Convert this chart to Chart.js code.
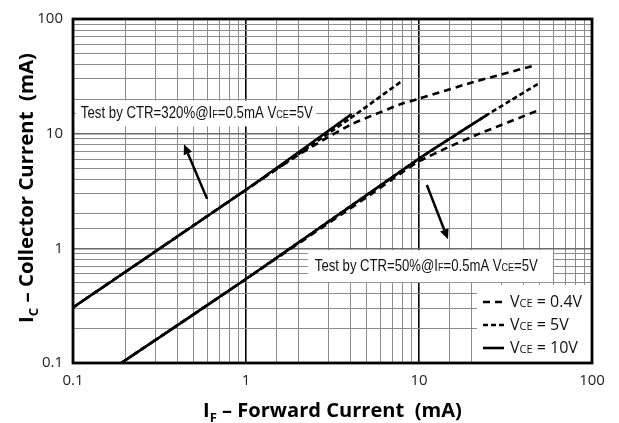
<!DOCTYPE html>
<html>
<head>
<meta charset="utf-8">
<script src="https://cdn.jsdelivr.net/npm/chart.js@4.4.1/dist/chart.umd.min.js"></script>
<style>
  html, body { margin: 0; padding: 0; background: #fff; }
</style>
</head>
<body>
<canvas id="chart" width="619" height="423"></canvas>
<script>
// decade labels on both axes
const decades = [0.1, 1, 10, 100];

// upper family, CTR=320%
const upX10 = [0.1, 1, 4.08];
const upY10 = [0.305, 3.24, 14.8];
const upX5 = [0.1, 1, 2, 4, 7.94];
const upY5 = [0.305, 3.24, 6.6, 13.6, 28.7];
const upX04 = [0.1, 1, 2, 2.68, 4.08, 7.76, 10, 20, 47];
const upY04 = [0.305, 3.24, 6.5, 8.5, 12.1, 18.0, 20.2, 27.8, 39.5];

// lower family, CTR=50%
const loX10 = [0.19, 1, 10, 24.6];
const loY10 = [0.1, 0.54, 6.05, 14.5];
const loX5 = [0.19, 1, 10, 24.6, 50];
const loY5 = [0.1, 0.54, 6.05, 14.5, 27.8];
const loX04 = [0.19, 1, 5, 8, 10, 15, 22, 48];
const loY04 = [0.1, 0.54, 2.8, 4.6, 5.75, 7.7, 9.9, 15.8];

const vceLabels = ['0.4V', '5V', '10V'];

// notes: [text, sub, text, sub, text]
const noteUp = ['Test by CTR=320%@I', 'F', '=0.5mA V', 'CE', '=5V'];
const noteLo = ['Test by CTR=50%@I', 'F', '=0.5mA V', 'CE', '=5V'];
const titleX = ['I', 'F', ' \u2013 Forward Current  (mA)'];
const titleY = ['I', 'C', ' \u2013 Collector Current  (mA)'];

function pts(xs, ys) {
  return xs.map((x, i) => ({ x: x, y: ys[i] }));
}
function joined(xa, ya, xb, yb) {
  return pts(xa, ya).concat([{ x: 1, y: null }], pts(xb, yb));
}

function isDecade(v) {
  const l = Math.log10(v);
  return Math.abs(l - Math.round(l)) < 1e-6;
}

function drawSubText(ctx, parts, x, y, size, subSize, font, weight, drop) {
  let cx = x;
  parts.forEach((p, i) => {
    const sub = i % 2 === 1;
    ctx.font = (weight || '') + ' ' + (sub ? subSize : size) + 'px ' + font;
    ctx.fillText(p, cx, sub ? y + drop : y);
    cx += ctx.measureText(p).width;
  });
  return cx - x;
}
function measureSubText(ctx, parts, size, subSize, font, weight) {
  let w = 0;
  parts.forEach((p, i) => {
    ctx.font = (weight || '') + ' ' + (i % 2 === 1 ? subSize : size) + 'px ' + font;
    w += ctx.measureText(p).width;
  });
  return w;
}

function arrow(ctx, x1, y1, x2, y2) {
  const a = Math.atan2(y2 - y1, x2 - x1);
  const hl = 10, hw = 4.5;
  ctx.beginPath();
  ctx.moveTo(x1, y1);
  ctx.lineTo(x2 - hl * Math.cos(a), y2 - hl * Math.sin(a));
  ctx.stroke();
  ctx.beginPath();
  ctx.moveTo(x2, y2);
  ctx.lineTo(x2 - hl * Math.cos(a) + hw * Math.sin(a), y2 - hl * Math.sin(a) - hw * Math.cos(a));
  ctx.lineTo(x2 - hl * Math.cos(a) - hw * Math.sin(a), y2 - hl * Math.sin(a) + hw * Math.cos(a));
  ctx.closePath();
  ctx.fill();
}

const noteFont = '"Liberation Sans", Arial, sans-serif';
const notes = [
  { parts: noteUp, x: 0.111, y: 15, width: 232, padL: 5, padR: 3, padV: 13 },
  { parts: noteLo, x: 2.5, y: 0.70, width: 223, padL: 7, padR: 15, padV: 16 }
];

const overlay = {
  id: 'overlay',
  beforeDatasetsDraw(chart) {
    const ctx = chart.ctx, xs = chart.scales.x, ys = chart.scales.y, area = chart.chartArea;
    ctx.save();
    ctx.fillStyle = '#fff';
    notes.forEach(n => {
      const px = xs.getPixelForValue(n.x), py = ys.getPixelForValue(n.y);
      ctx.fillRect(px - n.padL, py - n.padV, n.width + n.padL + n.padR, n.padV * 2);
    });
    // legend background
    ctx.fillRect(area.right - 115, area.bottom - 78, 115, 78);
    ctx.restore();
  },
  afterDatasetsDraw(chart) {
    const ctx = chart.ctx, xs = chart.scales.x, ys = chart.scales.y, area = chart.chartArea;
    ctx.save();
    // frame
    ctx.strokeStyle = '#000';
    ctx.lineWidth = 2.8;
    ctx.strokeRect(area.left, area.top, area.right - area.left, area.bottom - area.top);

    // notes
    ctx.fillStyle = '#111';
    ctx.textBaseline = 'middle';
    ctx.textAlign = 'left';
    notes.forEach(n => {
      const px = xs.getPixelForValue(n.x), py = ys.getPixelForValue(n.y);
      const w = measureSubText(ctx, n.parts, 16, 11, noteFont);
      ctx.save();
      ctx.translate(px, py);
      ctx.scale(n.width / w, 1);
      drawSubText(ctx, n.parts, 0, 0, 16, 11, noteFont, '', 1.8);
      ctx.restore();
    });

    // arrows
    ctx.strokeStyle = '#000';
    ctx.fillStyle = '#000';
    ctx.lineWidth = 2.5;
    arrow(ctx, xs.getPixelForValue(0.596), ys.getPixelForValue(2.7),
      xs.getPixelForValue(0.438), ys.getPixelForValue(8.08));
    arrow(ctx, xs.getPixelForValue(11.1), ys.getPixelForValue(3.57),
      xs.getPixelForValue(14.7), ys.getPixelForValue(1.2));

    // legend
    const lx = area.right - 109, ly = area.bottom - 61;
    chart.data.datasets.forEach((ds, i) => {
      const y = ly + i * 23;
      ctx.strokeStyle = '#000';
      ctx.lineWidth = ds.borderWidth;
      ctx.setLineDash(ds.borderDash || []);
      ctx.beginPath();
      ctx.moveTo(lx, y);
      ctx.lineTo(lx + 21, y);
      ctx.stroke();
      ctx.setLineDash([]);
      ctx.fillStyle = '#111';
      ctx.textBaseline = 'middle';
      drawSubText(ctx, ['V', 'CE', ' = ' + vceLabels[i]], lx + 27, y, 16, 11,
        '"Open Sans", sans-serif', '', 1.8);
    });
    ctx.restore();
  },
  afterDraw(chart) {
    const ctx = chart.ctx;
    const font = '"Open Sans", sans-serif';
    ctx.save();
    ctx.fillStyle = '#000';
    ctx.textBaseline = 'alphabetic';
    ctx.textAlign = 'left';
    // x title, fitted to the reference width
    let w = measureSubText(ctx, titleX, 20, 13, font, 'bold');
    let s = 20 * 259 / w;
    drawSubText(ctx, titleX, 203, 417, s, s * 0.65, font, 'bold', s * 0.25);
    // y title
    w = measureSubText(ctx, titleY, 20, 13, font, 'bold');
    s = 20 * 270 / w;
    ctx.translate(33, 323);
    ctx.rotate(-Math.PI / 2);
    drawSubText(ctx, titleY, 0, 0, s, s * 0.65, font, 'bold', s * 0.25);
    ctx.restore();
  }
};

const common = { fill: false, pointRadius: 0, borderColor: '#000', spanGaps: false, tension: 0.15, borderCapStyle: 'butt' };

new Chart(document.getElementById('chart'), {
  type: 'scatter',
  data: {
    datasets: [
      Object.assign({}, common, { label: 'VCE = 0.4V', data: joined(upX04, upY04, loX04, loY04), showLine: true, borderWidth: 2.6, borderDash: [7, 5] }),
      Object.assign({}, common, { label: 'VCE = 5V', data: joined(upX5, upY5, loX5, loY5), showLine: true, borderWidth: 2.6, borderDash: [5, 3] }),
      Object.assign({}, common, { label: 'VCE = 10V', data: joined(upX10, upY10, loX10, loY10), showLine: true, borderWidth: 2.6 })
    ]
  },
  options: {
    responsive: false,
    animation: false,
    layout: { padding: { top: 16, right: 27, left: 0, bottom: 0 } },
    plugins: { legend: { display: false }, tooltip: { enabled: false } },
    scales: {
      x: {
        type: 'logarithmic',
        min: 0.1,
        max: 100,
        afterFit: s => { s.height = 60; },
        border: { display: false },
        grid: {
          drawTicks: false,
          color: c => c.tick && isDecade(c.tick.value) ? '#000' : '#8c8c8c',
          lineWidth: c => c.tick && isDecade(c.tick.value) ? 1.6 : 1
        },
        ticks: {
          autoSkip: false,
          maxRotation: 0,
          padding: 9,
          color: '#222',
          font: { family: '"Open Sans", sans-serif', size: 15 },
          callback: v => isDecade(v) ? String(Number(v.toPrecision(3))) : ''
        }
      },
      y: {
        type: 'logarithmic',
        min: 0.1,
        max: 100,
        afterFit: s => { s.width = 73; },
        border: { display: false },
        grid: {
          drawTicks: false,
          color: c => c.tick && isDecade(c.tick.value) ? '#6a6a6a' : '#8c8c8c',
          lineWidth: c => c.tick && isDecade(c.tick.value) ? 1.4 : 1
        },
        ticks: {
          autoSkip: false,
          padding: 10,
          color: '#222',
          font: { family: '"Open Sans", sans-serif', size: 15 },
          callback: v => isDecade(v) ? String(Number(v.toPrecision(3))) : ''
        }
      }
    }
  },
  plugins: [overlay]
});
</script>
</body>
</html>
